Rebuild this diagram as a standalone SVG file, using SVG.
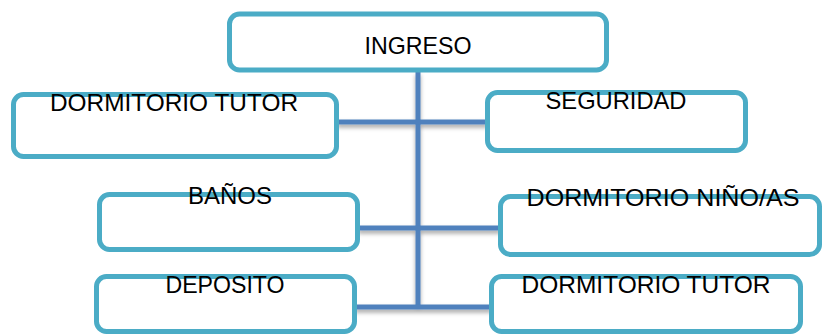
<svg xmlns="http://www.w3.org/2000/svg" width="822" height="335" viewBox="0 0 822 335">
<defs>
<filter id="sh" x="-10%" y="-50%" width="120%" height="200%">
<feDropShadow dx="0" dy="3" stdDeviation="2" flood-color="#000" flood-opacity="0.35"/>
</filter>
<style>
.box{fill:#fff;stroke:#4BACC6;stroke-width:5}
.lbl{font-family:"Liberation Sans",Arial,sans-serif;font-size:24px;fill:#000;text-anchor:middle}
.con{stroke:#4F81BD;stroke-width:5;fill:none}
</style>
</defs>
<rect width="822" height="335" fill="#fff"/>
<g id="connectors" filter="url(#sh)">
<line class="con" x1="418" y1="72" x2="418" y2="309"/>
<line class="con" x1="337" y1="122" x2="488" y2="122"/>
<line class="con" x1="358" y1="228" x2="501" y2="228"/>
<line class="con" x1="355" y1="307" x2="492" y2="307"/>
</g>
<g id="ingreso"><rect class="box" x="229.5" y="14" width="377" height="56" rx="10"/><text class="lbl" x="418" y="54" textLength="107" lengthAdjust="spacingAndGlyphs">INGRESO</text></g>
<g id="dormitorio-tutor-1"><rect class="box" x="13.5" y="94.5" width="323" height="62" rx="10"/><text class="lbl" x="174" y="111" textLength="248" lengthAdjust="spacingAndGlyphs">DORMITORIO TUTOR</text></g>
<g id="seguridad"><rect class="box" x="487.5" y="92.5" width="258" height="58" rx="10"/><text class="lbl" x="616" y="109" textLength="141" lengthAdjust="spacingAndGlyphs">SEGURIDAD</text></g>
<g id="banos"><rect class="box" x="99.5" y="194.5" width="258" height="55" rx="10"/><text class="lbl" x="230" y="204" textLength="84" lengthAdjust="spacingAndGlyphs">BAÑOS</text></g>
<g id="dormitorio-ninos"><rect class="box" x="500.5" y="196.5" width="319" height="58" rx="10"/><text class="lbl" x="663" y="206" textLength="273" lengthAdjust="spacingAndGlyphs">DORMITORIO NIÑO/AS</text></g>
<g id="deposito"><rect class="box" x="96.5" y="276.5" width="258" height="55" rx="10"/><text class="lbl" x="225" y="293" textLength="119" lengthAdjust="spacingAndGlyphs">DEPOSITO</text></g>
<g id="dormitorio-tutor-2"><rect class="box" x="491.5" y="276.5" width="309" height="55" rx="10"/><text class="lbl" x="646" y="293" textLength="249" lengthAdjust="spacingAndGlyphs">DORMITORIO TUTOR</text></g>
</svg>
